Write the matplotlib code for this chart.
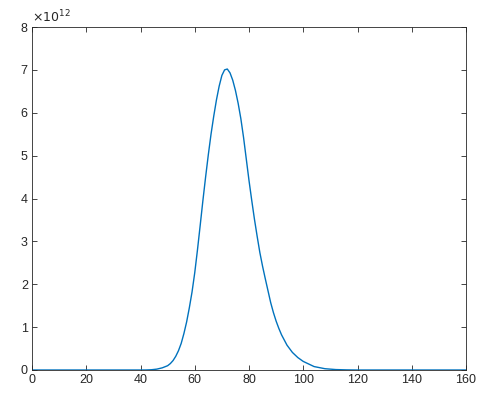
import numpy as np
import matplotlib.pyplot as plt

plt.rcParams['font.family'] = ['Liberation Sans', 'DejaVu Sans']

x = [0, 20, 40, 42, 44, 46, 48, 50, 51, 52, 53, 54, 55, 56, 57, 58, 59, 60, 61, 62, 63,
     64, 65, 66, 67, 68, 69, 70, 71, 72, 73, 74, 75, 76, 77, 78, 79, 80, 81, 82, 83,
     84, 85, 86, 87, 88, 89, 90, 91, 92, 94, 96, 98, 100, 104, 108, 112, 116, 120,
     140, 160]
y = [0, 0, 0, 0.001, 0.006, 0.02, 0.05, 0.1, 0.15, 0.22, 0.32, 0.45, 0.62, 0.85,
     1.12, 1.45, 1.82, 2.27, 2.8, 3.37, 3.95, 4.5, 5.02, 5.5, 5.92, 6.3, 6.62, 6.87,
     7.0, 7.02, 6.93, 6.76, 6.52, 6.22, 5.86, 5.42, 4.92, 4.42, 3.96, 3.52, 3.12,
     2.74, 2.42, 2.13, 1.85, 1.57, 1.34, 1.14, 0.97, 0.82, 0.58, 0.41, 0.29, 0.2,
     0.08, 0.03, 0.01, 0.003, 0, 0, 0]
y = np.array(y) * 1e12

fig = plt.figure(figsize=(4.93, 4.05), dpi=100)
ax = fig.add_axes([32/493, 35/405, 434/493, 343/405])
ax.plot(x, y, color='#0072BD', lw=1)
ax.set_xlim(0, 160)
ax.set_ylim(0, 8e12)
ax.set_xticks(range(0, 161, 20))
ax.set_yticks(np.arange(0, 9) * 1e12)
ax.set_yticklabels([str(i) for i in range(9)])
ax.tick_params(direction='in', top=True, right=True, length=3.5, width=0.6,
               labelsize=9, colors='#262626', pad=3)
for s in ax.spines.values():
    s.set_linewidth(0.6)
    s.set_color('#262626')
ax.text(0, 1.005, r'$\times10^{12}$', transform=ax.transAxes, fontsize=9,
        color='#262626', va='bottom', ha='left')

fig.savefig('out.png')
